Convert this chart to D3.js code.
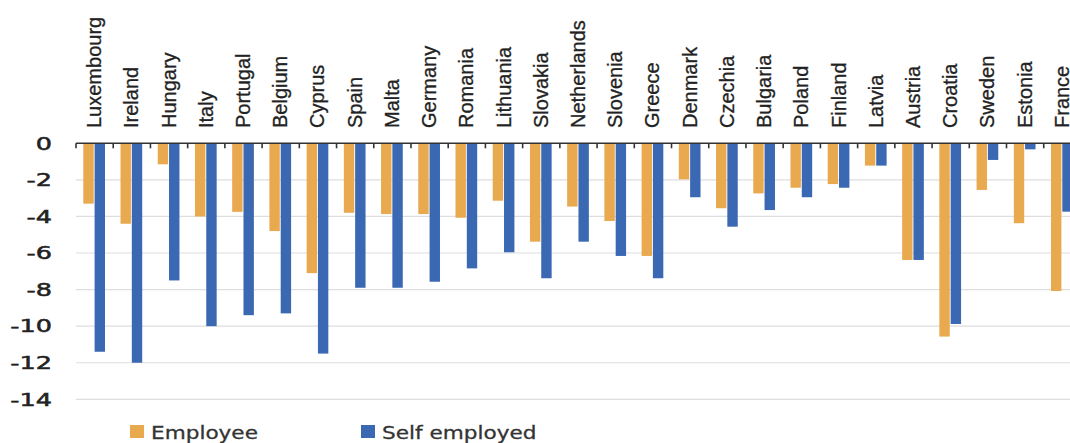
<!DOCTYPE html>
<html>
<head>
<meta charset="utf-8">
<script src="https://cdn.jsdelivr.net/npm/d3@7"></script>
<style>
  body { margin: 0; background: #fff; }
  svg { display: block; }
</style>
</head>
<body>
<div id="chart"></div>
<script>
"use strict";

// == DATA ==
var countries = ["Luxembourg", "Ireland", "Hungary", "Italy", "Portugal", "Belgium", "Cyprus",
  "Spain", "Malta", "Germany", "Romania", "Lithuania", "Slovakia", "Netherlands", "Slovenia",
  "Greece", "Denmark", "Czechia", "Bulgaria", "Poland", "Finland", "Latvia", "Austria",
  "Croatia", "Sweden", "Estonia", "France"];

var employee = [-3.3, -4.4, -1.15, -4.0, -3.75, -4.8, -7.1,
  -3.8, -3.87, -3.87, -4.07, -3.14, -5.38, -3.46, -4.25,
  -6.16, -1.97, -3.55, -2.74, -2.43, -2.23, -1.22, -6.38,
  -10.57, -2.55, -4.37, -8.08];

var selfEmployed = [-11.4, -12.0, -7.5, -10.0, -9.4, -9.3, -11.5,
  -7.9, -7.9, -7.57, -6.84, -5.96, -7.38, -5.38, -6.16,
  -7.38, -2.95, -4.56, -3.65, -2.95, -2.43, -1.22, -6.38,
  -9.88, -0.91, -0.33, -3.74];

var seriesNames = ["Employee", "Self employed"];
var seriesColors = ["#e9a94f", "#3a68b3"];
var yTicks = [0, -2, -4, -6, -8, -10, -12, -14];

// == BOILERPLATE ==
var width = 1070, height = 443;
var left = 76, step = 37.22;

var svg = d3.select("#chart").append("svg")
  .attr("width", width)
  .attr("height", height);

var x0 = d3.scaleBand()
  .domain(countries)
  .range([left, left + countries.length * step])
  .padding(0);

var x1 = d3.scaleBand()
  .domain(seriesNames)
  .range([7.3, 29])
  .paddingInner(0.08);

var y = d3.scaleLinear()
  .domain([0, -14])
  .range([143.3, 399.3]);

// gridlines
svg.append("g").selectAll("line")
  .data(yTicks.filter(function(d){ return d !== 0; }))
  .enter().append("line")
  .attr("x1", left).attr("x2", width + 20)
  .attr("y1", function(d){ return y(d); })
  .attr("y2", function(d){ return y(d); })
  .attr("stroke", "#dedede")
  .attr("stroke-width", 1.2);

// y labels (the font in the picture is very wide, so stretch it)
svg.append("g").selectAll("text")
  .data(yTicks)
  .enter().append("text")
  .attr("transform", function(d){ return "translate(52," + (y(d) + 6.2) + ") scale(1.5,1)"; })
  .attr("text-anchor", "end")
  .attr("font-family", "DejaVu Sans")
  .attr("font-size", 17)
  .attr("fill", "#222")
  .attr("stroke", "#222")
  .attr("stroke-width", 0.5)
  .text(function(d){ return d; });

// bars
var rows = countries.map(function(c, i){
  return { country: c, values: [employee[i], selfEmployed[i]] };
});

var groups = svg.append("g").selectAll("g")
  .data(rows)
  .enter().append("g")
  .attr("transform", function(d){ return "translate(" + x0(d.country) + ",0)"; });

groups.selectAll("rect")
  .data(function(d){ return d.values.map(function(v, k){ return { key: seriesNames[k], value: v, k: k }; }); })
  .enter().append("rect")
  .attr("x", function(d){ return x1(d.key); })
  .attr("width", x1.bandwidth())
  .attr("y", y(0))
  .attr("height", function(d){ return y(d.value) - y(0); })
  .attr("fill", function(d){ return seriesColors[d.k]; });

// zero axis with ticks at the category boundaries
var axis = svg.append("g");
axis.append("line")
  .attr("x1", left).attr("x2", width + 20)
  .attr("y1", y(0)).attr("y2", y(0))
  .attr("stroke", "#333").attr("stroke-width", 1.6);

var bounds = countries.map(function(c){ return x0(c); });
bounds.push(x0.range()[1]);
axis.selectAll("line.tick")
  .data(bounds)
  .enter().append("line")
  .attr("class", "tick")
  .attr("x1", function(d){ return d; }).attr("x2", function(d){ return d; })
  .attr("y1", y(0)).attr("y2", y(0) + 5)
  .attr("stroke", "#333").attr("stroke-width", 1.6);

// country labels
svg.append("g").selectAll("text")
  .data(countries)
  .enter().append("text")
  .attr("transform", function(d){
    return "translate(" + (x0(d) + x0.bandwidth() / 2 + 6.5) + ",128) rotate(-90)";
  })
  .attr("text-anchor", "start")
  .attr("font-family", "Liberation Sans")
  .attr("font-size", 20)
  .attr("fill", "#222")
  .attr("stroke", "#222")
  .attr("stroke-width", 0.3)
  .text(function(d){ return d; });

// legend
var legendX = [130, 361];
var legend = svg.append("g").selectAll("g")
  .data(seriesNames)
  .enter().append("g")
  .attr("transform", function(d, i){ return "translate(" + legendX[i] + ",425)"; });

legend.append("rect")
  .attr("width", 14).attr("height", 13)
  .attr("fill", function(d, i){ return seriesColors[i]; });

legend.append("text")
  .attr("transform", "translate(21,13.5) scale(1.2,1)")
  .attr("font-family", "DejaVu Sans")
  .attr("font-size", 18)
  .attr("fill", "#333")
  .attr("stroke", "#333")
  .attr("stroke-width", 0.3)
  .text(function(d){ return d; });
</script>
</body>
</html>
